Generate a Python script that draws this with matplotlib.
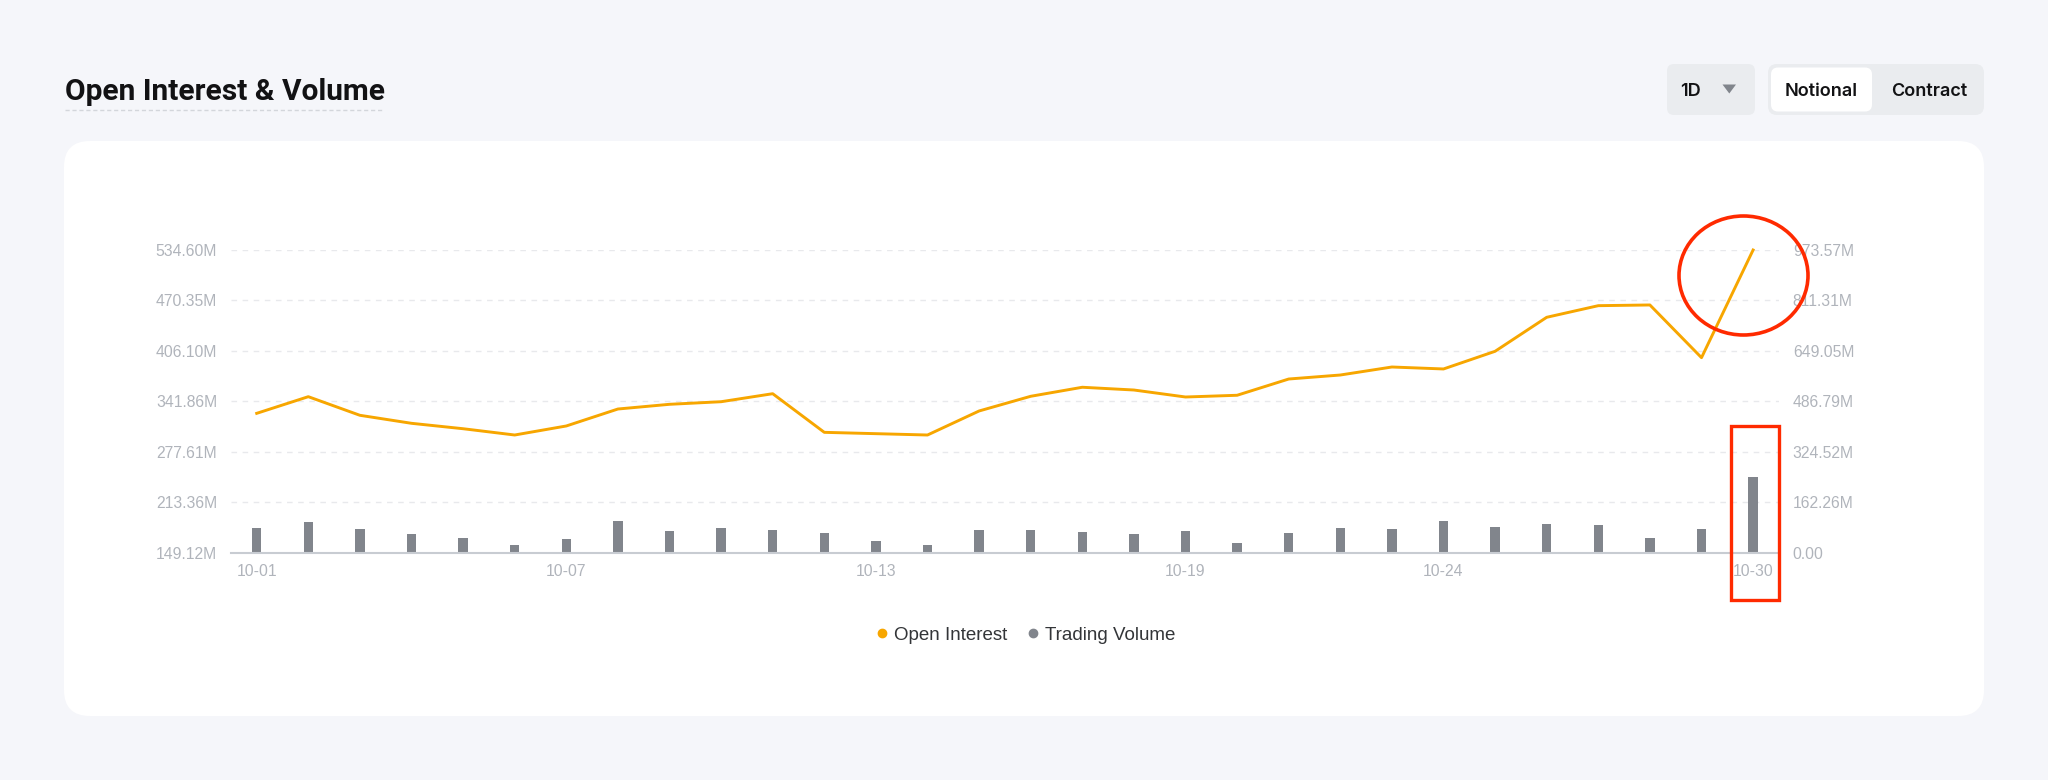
import matplotlib
matplotlib.use('Agg')
import matplotlib.pyplot as plt
from matplotlib.patches import FancyBboxPatch, Ellipse, Rectangle, Polygon
from matplotlib.lines import Line2D

# data (values in millions)
dates = ['10-01', '10-02', '10-03', '10-04', '10-05', '10-06', '10-07', '10-08', '10-09', '10-10',
         '10-11', '10-12', '10-13', '10-14', '10-15', '10-16', '10-17', '10-18', '10-19', '10-20',
         '10-21', '10-22', '10-23', '10-24', '10-25', '10-26', '10-27', '10-28', '10-29', '10-30']
open_interest = [326.6, 347.8, 324.1, 313.9, 307.0, 299.0, 310.5, 332.1, 338.1, 341.4,
                 351.6, 302.4, 300.7, 299.0, 329.6, 348.3, 359.8, 356.3, 347.4, 349.6,
                 370.3, 375.4, 385.6, 383.1, 405.6, 448.9, 463.7, 464.6, 397.5, 534.6]
trading_volume = [80.4, 99.7, 75.2, 59.2, 46.3, 23.8, 43.1, 102.9, 69.8, 80.4,
                  72.0, 62.4, 37.6, 23.8, 72.0, 74.0, 65.6, 60.1, 68.8, 31.2,
                  62.4, 78.5, 75.2, 102.0, 83.6, 93.3, 90.0, 46.3, 76.2, 243.5]
oi_ticks = [149.12, 213.36, 277.61, 341.86, 406.10, 470.35, 534.60]
vol_ticks = [0.00, 162.26, 324.52, 486.79, 649.05, 811.31, 973.57]
shown_dates = ['10-01', '10-07', '10-13', '10-19', '10-24', '10-30']

orange = '#F7A600'
bar_grey = '#81858C'
label_grey = '#B0B4BB'

plt.rcParams['font.family'] = ['Liberation Sans', 'DejaVu Sans']

fig = plt.figure(figsize=(20.48, 7.8), dpi=100)
fig.patch.set_facecolor('#F5F6FA')

# background layer in pixel coordinates
bg = fig.add_axes([0, 0, 1, 1], zorder=0)
bg.set_xlim(0, 2048)
bg.set_ylim(780, 0)
bg.axis('off')
bg.add_patch(FancyBboxPatch((64, 141), 1920, 575, boxstyle='round,pad=0,rounding_size=26',
                            fc='white', ec='none'))
bg.text(65, 92, 'Open Interest & Volume', fontsize=21.5, fontweight='bold', family='Roboto',
        color='#121214', va='center', ha='left')
bg.plot([65, 383], [110, 110], color='#D3D6DB', lw=1, ls=(0, (3, 2)))

# 1D selector
bg.add_patch(FancyBboxPatch((1667, 64), 88, 51, boxstyle='round,pad=0,rounding_size=7',
                            fc='#EAECEF', ec='none'))
bg.text(1680, 92, '1D', fontsize=13, fontweight='semibold', family='Inter', color='#121214',
        va='center', ha='left')
bg.add_patch(Polygon([[1722.5, 84.5], [1736, 84.5], [1729.3, 93.5]], closed=True,
                     fc='#81858C', ec='none'))

# Notional / Contract toggle
bg.add_patch(FancyBboxPatch((1768, 64), 216, 51, boxstyle='round,pad=0,rounding_size=9',
                            fc='#EAECEF', ec='none'))
bg.add_patch(FancyBboxPatch((1771, 67.5), 101, 44, boxstyle='round,pad=0,rounding_size=7',
                            fc='white', ec='none'))
bg.text(1821.5, 92, 'Notional', fontsize=13, fontweight='semibold', family='Inter',
        color='#121214', va='center', ha='center')
bg.text(1929, 92, 'Contract', fontsize=13, fontweight='semibold', family='Inter',
        color='#121214', va='center', ha='center')

# chart: volume bars (right axis) and open interest line (left axis)
ax = fig.add_axes([230.9 / 2048, 1 - 552.7 / 780, 1548 / 2048, 302.7 / 780], zorder=1)
ax.patch.set_visible(False)
ax2 = ax.twinx()
ax2.set_zorder(2)
ax2.patch.set_visible(False)

x = list(range(len(dates)))
ax.bar(x, trading_volume, width=0.18, color=bar_grey, zorder=3)
ax.set_xlim(-0.5, len(dates) - 0.5)
ax.set_ylim(vol_ticks[0], vol_ticks[-1])
ax.set_yticks(vol_ticks)
ax.set_yticklabels([f'{v:.2f}M' if v else '0.00' for v in vol_ticks])
ax.yaxis.grid(True, color='#E8E9EC', lw=1, ls=(0, (4, 4)))
ax.set_axisbelow(True)
ax.set_xticks([dates.index(d) for d in shown_dates])
ax.set_xticklabels(shown_dates)
for s in ['top', 'left', 'right']:
    ax.spines[s].set_visible(False)
ax.spines['bottom'].set_color('#C8CCD2')
ax.spines['bottom'].set_linewidth(1.5)
ax.spines['bottom'].set_zorder(4)

ax2.plot(x, open_interest, color=orange, lw=2.1, solid_joinstyle='round', clip_on=False)
ax2.set_ylim(oi_ticks[0], oi_ticks[-1])
ax2.set_yticks(oi_ticks)
ax2.set_yticklabels([f'{v:.2f}M' for v in oi_ticks])
for s in ax2.spines.values():
    s.set_visible(False)

# put the tick labels on their sides (after twinx, which resets them)
ax.yaxis.set_ticks_position('right')
ax.yaxis.set_label_position('right')
ax2.yaxis.set_ticks_position('left')
ax2.yaxis.set_label_position('left')
ax.tick_params(axis='both', length=0, labelsize=11.3, labelcolor=label_grey)
ax.tick_params(axis='y', pad=10, labelleft=False, labelright=True)
ax.tick_params(axis='x', pad=8)
ax2.tick_params(axis='y', length=0, labelsize=11.3, labelcolor=label_grey, pad=10,
                labelleft=True, labelright=False)

# legend
handles = [Line2D([], [], ls='none', marker='o', ms=6, color=orange),
           Line2D([], [], ls='none', marker='o', ms=6, color=bar_grey)]
fig.legend(handles, ['Open Interest', 'Trading Volume'], loc='center',
           bbox_to_anchor=(0.5, 1 - 635 / 780), ncol=2, frameon=False, fontsize=13.5,
           labelcolor='#333538', handletextpad=0.15, columnspacing=0.9, handlelength=1)

# red highlight marks on top
top = fig.add_axes([0, 0, 1, 1], zorder=10)
top.set_xlim(0, 2048)
top.set_ylim(780, 0)
top.axis('off')
top.add_patch(Ellipse((1743.5, 275.5), 129, 119, fill=False, ec='#FF2A00', lw=2.6))
top.add_patch(Rectangle((1731, 426), 48, 174, fill=False, ec='#FF2A00', lw=2.4))

fig.savefig('out.png', dpi=100, facecolor=fig.get_facecolor())
